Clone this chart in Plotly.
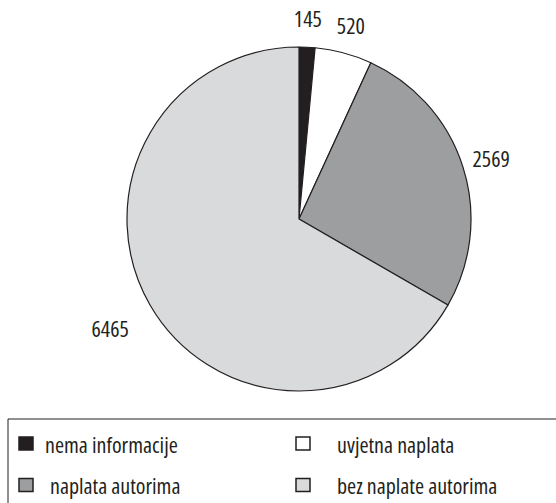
import math
import plotly.graph_objects as go

categories = ["nema informacije", "uvjetna naplata", "naplata autorima", "bez naplate autorima"]
values = [145, 520, 2569, 6465]
colors = ["#231f20", "#ffffff", "#9d9ea0", "#d9dadb"]

FONT = "Open Sans, sans-serif"
W, H = 556, 503
CX, CY, R = 299, 219, 172  # pie centre / radius in px

fig = go.Figure()
fig.add_trace(go.Pie(
    labels=categories,
    values=values,
    sort=False,
    direction="clockwise",
    rotation=0,
    marker=dict(colors=colors, line=dict(color="#231f20", width=1.2)),
    textinfo="none",
    hoverinfo="label+value",
    showlegend=False,
    domain=dict(x=[(CX - R) / W, (CX + R) / W], y=[1 - (CY + R) / H, 1 - (CY - R) / H]),
))

# value labels placed outside each slice, at the slice's mid-angle
total = sum(values)
cum = 0
for v in values:
    mid = (cum + v / 2) / total * 2 * math.pi
    cum += v
    d = R * 1.17 + 20 * abs(math.sin(mid)) * (1 if math.cos(mid) < 0 else 0)
    lx = CX + d * math.sin(mid)
    ly = CY - d * math.cos(mid)
    fig.add_annotation(x=lx / W, y=1 - ly / H, xref="paper", yref="paper",
                       text=str(v), showarrow=False, xanchor="center", yanchor="middle",
                       font=dict(family=FONT, size=22, color="#231f20"))

# Legend box
fig.add_shape(type="rect", xref="paper", yref="paper",
              x0=8 / W, x1=1.02, y0=-0.05, y1=1 - 419 / H,
              line=dict(color="#231f20", width=1), fillcolor="rgba(0,0,0,0)")

# Legend entries (two columns, row-wise)
sym_x = [19, 296, 19, 296]
text_x = [43, 335, 48, 335]
row_y = [443.5, 485]
for i, (lab, col) in enumerate(zip(categories, colors)):
    r = i // 2
    cx, cy = sym_x[i], row_y[r]
    fig.add_shape(type="rect", xref="paper", yref="paper",
                  x0=cx / W, x1=(cx + 14) / W,
                  y0=1 - (cy + 6.5) / H, y1=1 - (cy - 6.5) / H,
                  line=dict(color="#231f20", width=1.5), fillcolor=col)
    fig.add_annotation(x=text_x[i] / W, y=1 - cy / H, xref="paper", yref="paper",
                       text=lab, showarrow=False, xanchor="left", yanchor="middle", align="left",
                       font=dict(family=FONT, size=22, color="#231f20"))

fig.update_layout(
    width=W, height=H,
    margin=dict(l=0, r=0, t=0, b=0),
    paper_bgcolor="white",
    plot_bgcolor="white",
)

# condensed face of Open Sans (variable width axis)
post = """
document.body.style.margin='0';
var s=document.createElement('style');
s.innerHTML='.main-svg text{font-stretch:75% !important;}';
document.head.appendChild(s);
"""
fig.write_html("out.html", post_script=post, config={"displayModeBar": False})
